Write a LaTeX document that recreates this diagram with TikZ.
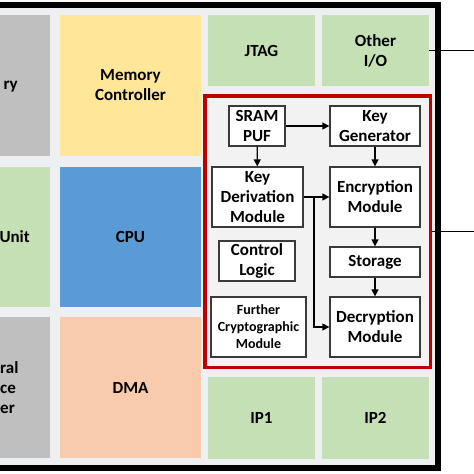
\documentclass[tikz,border=0pt]{standalone}
\usepackage{fontspec}
\setmainfont{Carlito}
\usetikzlibrary{arrows.meta}
\definecolor{chipbg}{HTML}{EEEFF1}
\definecolor{grayblk}{HTML}{BFBFBF}
\definecolor{greenblk}{HTML}{C5E0B4}
\definecolor{yellowblk}{HTML}{FFE699}
\definecolor{blueblk}{HTML}{5B9BD5}
\definecolor{peachblk}{HTML}{F8CBAD}
\definecolor{cryptored}{HTML}{C00000}
\definecolor{cryptobg}{HTML}{F2F2F2}
\definecolor{boxline}{HTML}{3A3A3A}
\begin{document}
\begin{tikzpicture}[x=1pt,y=-1pt,
  lbl/.style={font=\bfseries\fontsize{17}{20}\selectfont,align=center,inner sep=0},
  blk/.style={lbl,minimum width=141,minimum height=141},
  io/.style={lbl,fill=greenblk,minimum width=107},
  sub/.style={lbl,draw=boxline,line width=1.3,fill=white,minimum width=90,minimum height=60},
  arr/.style={-{Triangle[length=7,width=7]},line width=1.3}]
\useasboundingbox (0,0) rectangle (474,474);
\clip (0,0) rectangle (474,474);
% chip outline
\draw[line width=6,fill=chipbg] (-20,5) rectangle (438,468);
% left column (cut off)
\fill[grayblk] (-20,15) rectangle (50,156);
\fill[greenblk] (-20,167) rectangle (50,307);
\fill[grayblk] (-20,317) rectangle (50,458);
\node[lbl,anchor=east] (mem) at (18,87) {ry};
\node[lbl,anchor=east] (unit) at (30,237) {Unit};
\node[lbl,anchor=west,align=left] (pic) at (0,388) {ral\\ce\\er};
% middle column
\node[blk,fill=yellowblk] (mc) at (130.5,85.5) {Memory\\Controller};
\node[blk,fill=blueblk,minimum height=140] (cpu) at (130.5,237) {CPU};
\node[blk,fill=peachblk] (dma) at (130.5,387.5) {DMA};
% right column
\node[io,minimum height=71] (jtag) at (261.5,50.5) {JTAG};
\node[io,minimum height=71] (oio) at (375.5,50.5) {Other\\I/O};
\node[io,minimum height=82] (ip1) at (261.5,418) {IP1};
\node[io,minimum height=82] (ip2) at (375.5,418) {IP2};
% crypto core
\node[draw=cryptored,line width=3.5,fill=cryptobg,minimum width=225.5,minimum height=271.5] (core) at (317.75,231.75) {};
\node[sub,minimum width=56,minimum height=40] (puf) at (257,126) {SRAM\\PUF};
\node[sub,minimum height=40] (kg) at (375,126) {Key\\Generator};
\node[sub,minimum width=91] (kdm) at (257.5,197) {Key\\Derivation\\Module};
\node[sub] (enc) at (375,197) {Encryption\\Module};
\node[sub,minimum width=76,minimum height=40] (ctl) at (257,261) {Control\\Logic};
\node[sub,minimum width=95,font=\bfseries\fontsize{14}{17}\selectfont] (fcm) at (258.5,327) {Further\\Cryptographic\\Module};
\node[sub,minimum height=30] (sto) at (375,262) {Storage};
\node[sub] (dec) at (375,327) {Decryption\\Module};
\coordinate (split) at (314,197);
\draw[arr] (puf) -- (kg);
\draw[arr] (puf) -- (kdm);
\draw[arr] (kg) -- (enc);
\draw[arr] (kdm) -- (enc);
\draw[arr] (split) |- (dec.west);
\draw[arr] (enc) -- (sto);
\draw[arr] (sto) -- (dec);
% external lines
\coordinate (out1) at (474,50.5);
\coordinate (out2) at (474,231.75);
\draw[line width=1.3] (oio.east) -- (out1);
\draw[line width=1.3] (core.east) -- (out2);
\end{tikzpicture}
\end{document}
